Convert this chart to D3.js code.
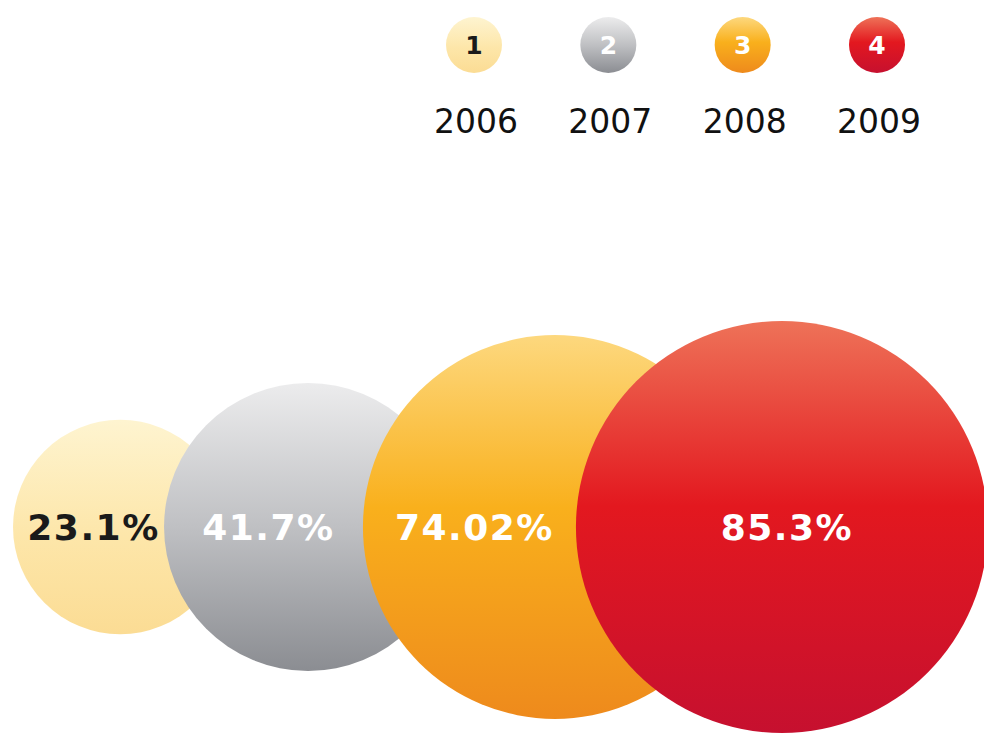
<!DOCTYPE html>
<html>
<head>
<meta charset="utf-8">
<script src="https://cdn.jsdelivr.net/npm/d3@7"></script>
<style>
  body { margin: 0; background: #fff; }
  svg { display: block; }
</style>
</head>
<body>
<div class="chartD3"></div>
<script>
// data
let years = ['2006', '2007', '2008', '2009']
let badges = ['1', '2', '3', '4']
let values = [23.1, 41.7, 74.02, 85.3]
let labels = ['23.1%', '41.7%', '74.02%', '85.3%']

let width = 984
let height = 734

// gradient stops, one set per year
let stops = [
    [['0%', '#fef4d0'], ['55%', '#fde6a9'], ['100%', '#fbdc94']],
    [['0%', '#ececed'], ['50%', '#bfc0c3'], ['100%', '#8b8d92']],
    [['0%', '#fdd87e'], ['45%', '#f9b01c'], ['100%', '#ee8a1c']],
    [['0%', '#ee7258'], ['45%', '#e3181f'], ['100%', '#c6102f']]
]
let textColors = ['#1a1a1a', '#ffffff', '#ffffff', '#ffffff']

let svg = d3.select('.chartD3').append('svg')
    .attr('width', width)
    .attr('height', height)

let defs = svg.append('defs')
years.forEach((y, i) => {
    let g = defs.append('linearGradient')
        .attr('id', 'grad' + i)
        .attr('x1', 0).attr('y1', 0)
        .attr('x2', 0).attr('y2', 1)
    stops[i].forEach(s => g.append('stop').attr('offset', s[0]).attr('stop-color', s[1]))
})

// bubble size is area-proportional
let r = d3.scaleSqrt()
    .domain([0, d3.max(values)])
    .range([0, 206])

// each bubble's left edge steps along by its own radius plus a small gap
let startX = 13
let gap = 7
let lefts = []
values.forEach((v, i) => {
    if (i === 0) lefts.push(startX)
    else lefts.push(lefts[i - 1] + r(v) + gap)
})
let cx = (d, i) => lefts[i] + r(d)
let cy = 527

let bubbles = svg.append('g')
bubbles.selectAll('circle')
    .data(values)
    .enter()
    .append('circle')
    .attr('cx', cx)
    .attr('cy', cy)
    .attr('r', d => r(d))
    .attr('fill', (d, i) => 'url(#grad' + i + ')')

// label sits in the middle of the visible part of each bubble
let labelX = (d, i) => {
    let right = i < values.length - 1 ? lefts[i + 1] : lefts[i] + 2 * r(d)
    return (lefts[i] + right) / 2 + 5
}
bubbles.selectAll('text')
    .data(values)
    .enter()
    .append('text')
    .attr('x', labelX)
    .attr('y', cy)
    .attr('dy', '0.36em')
    .attr('text-anchor', 'middle')
    .style('font-family', '"DejaVu Sans", Verdana, sans-serif')
    .style('font-weight', 'bold')
    .style('font-size', '36px')
    .style('letter-spacing', '1.5px')
    .attr('fill', (d, i) => textColors[i])
    .text((d, i) => labels[i])

// legend
let lx = d3.scalePoint()
    .domain(years)
    .range([476, 879])

let legend = svg.append('g')
let item = legend.selectAll('g')
    .data(years)
    .enter()
    .append('g')
    .attr('transform', d => 'translate(' + lx(d) + ',0)')

item.append('circle')
    .attr('cx', -2)
    .attr('cy', 45)
    .attr('r', 28)
    .attr('fill', (d, i) => 'url(#grad' + i + ')')

item.append('text')
    .attr('x', -2)
    .attr('y', 45)
    .attr('dy', '0.36em')
    .attr('text-anchor', 'middle')
    .style('font-family', '"DejaVu Sans", Verdana, sans-serif')
    .style('font-weight', 'bold')
    .style('font-size', '25px')
    .attr('fill', (d, i) => textColors[i])
    .text((d, i) => badges[i])

item.append('text')
    .attr('x', 0)
    .attr('y', 133)
    .attr('text-anchor', 'middle')
    .style('font-family', '"DejaVu Sans", Verdana, sans-serif')
    .style('font-size', '33px')
    .attr('fill', '#111')
    .text(d => d)
</script>
</body>
</html>
